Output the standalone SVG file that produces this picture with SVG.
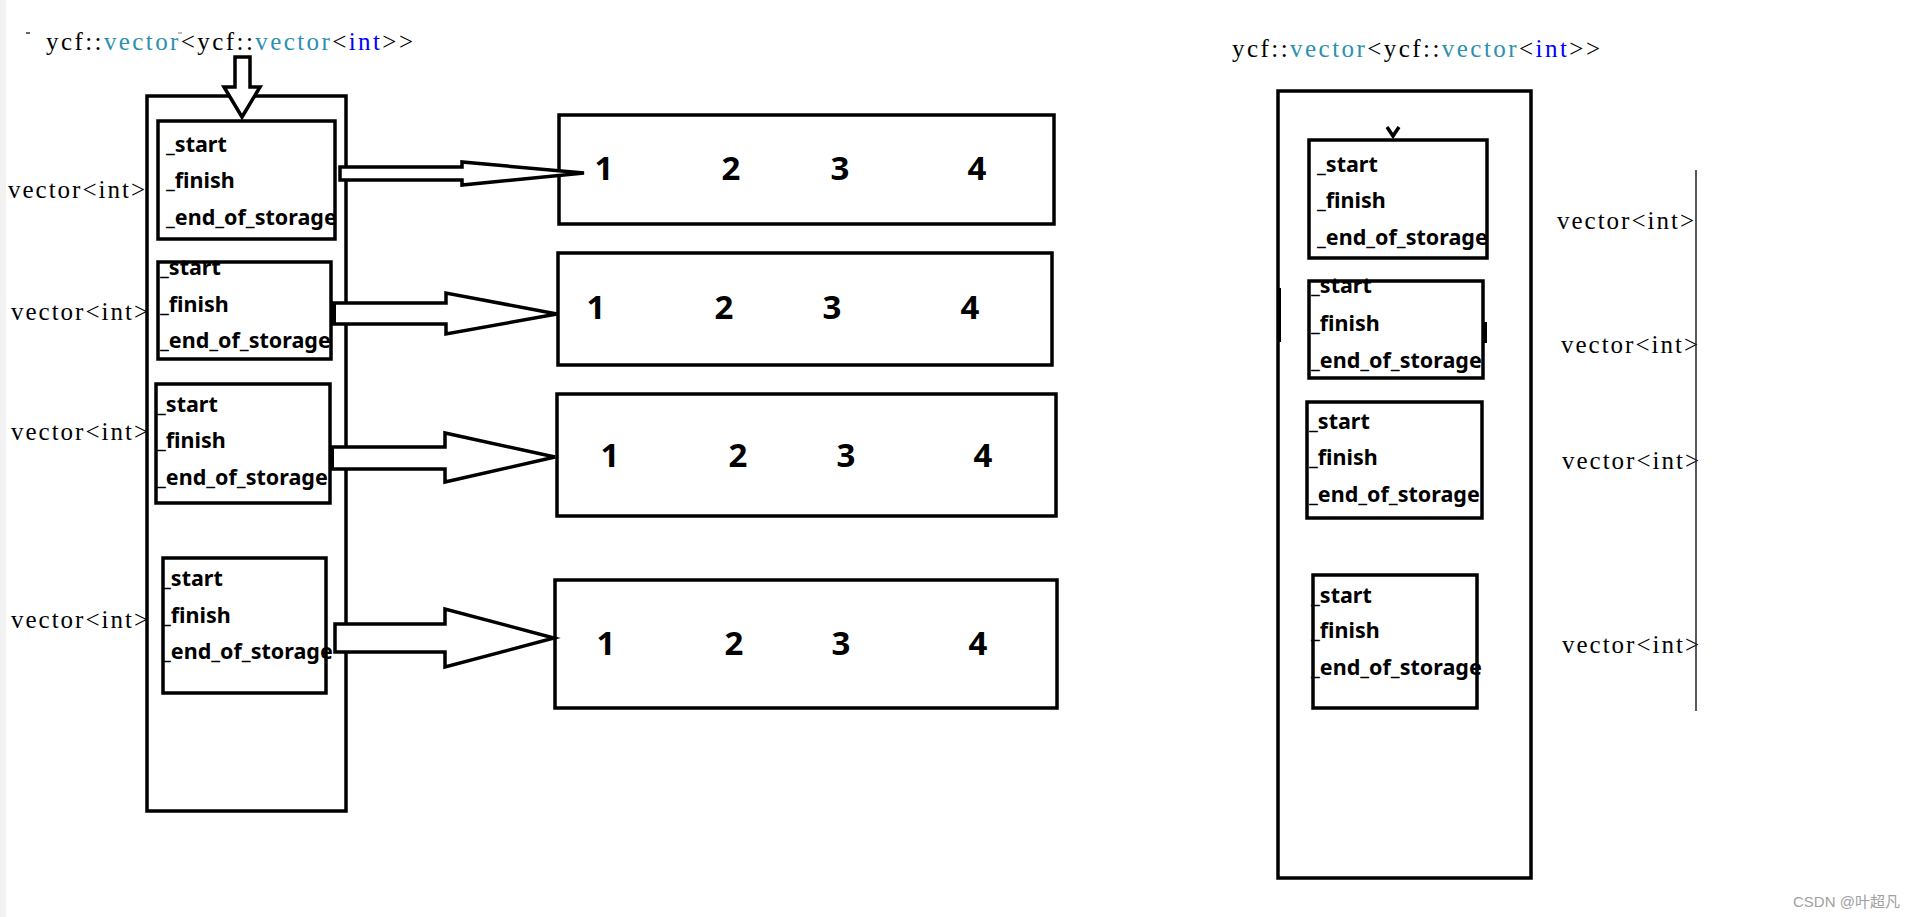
<svg xmlns="http://www.w3.org/2000/svg" width="1908" height="917" viewBox="0 0 1908 917">
<style>
.bg{fill:#ffffff}
.box{fill:none;stroke:#000;stroke-width:3.5}
.nbox{fill:none;stroke:#000;stroke-width:3.5}
.fld{font-family:"Noto Sans","Open Sans",sans-serif;font-weight:bold;font-size:21.5px;fill:#000}
.dig{font-family:"Noto Sans","Open Sans",sans-serif;font-weight:bold;font-size:33px;fill:#000;text-anchor:middle}
.code{font-family:"Liberation Serif","DejaVu Serif",serif;font-size:25px;fill:#000}
.cls{fill:#2b91af}
.kw{fill:#0000ff}
.arr{fill:#fff;stroke:#000;stroke-width:3.5;stroke-linejoin:miter}
.wm{font-family:"Liberation Sans","Noto Sans CJK SC",sans-serif;font-size:15px;fill:#a0a0a0}
</style>
<rect class="bg" x="0" y="0" width="1908" height="917"/>
<rect x="0" y="0" width="6" height="917" fill="#f2f2f2"/>

<!-- Left diagram -->
<g id="title-left">
  <text class="code" x="46" y="50" textLength="367" lengthAdjust="spacing">ycf::<tspan class="cls">vector</tspan>&lt;ycf::<tspan class="cls">vector</tspan>&lt;<tspan class="kw">int</tspan>&gt;&gt;</text>
  <line x1="26" y1="33" x2="30" y2="33" stroke="#333" stroke-width="1.5"/>
  <line x1="178" y1="33" x2="182" y2="33" stroke="#777" stroke-width="1"/>
</g>

<g id="container-left">
  <rect class="box" x="147" y="96" width="199" height="715"/>
</g>

<g id="vec-left-1">
  <rect class="box" x="158" y="121" width="177" height="118"/>
  <text class="fld" x="166" y="152">_start</text>
  <text class="fld" x="166" y="188">_finish</text>
  <text class="fld" x="166" y="225">_end_of_storage</text>
</g>
<g id="vec-left-2">
  <rect class="box" x="158" y="262" width="173" height="97"/>
  <text class="fld" x="160" y="275">_start</text>
  <text class="fld" x="160" y="312">_finish</text>
  <text class="fld" x="160" y="348">_end_of_storage</text>
</g>
<g id="vec-left-3">
  <rect class="box" x="156" y="384" width="174" height="119"/>
  <text class="fld" x="157" y="412">_start</text>
  <text class="fld" x="157" y="448">_finish</text>
  <text class="fld" x="157" y="485">_end_of_storage</text>
</g>
<g id="vec-left-4">
  <rect class="box" x="163" y="558" width="163" height="135"/>
  <text class="fld" x="162" y="586">_start</text>
  <text class="fld" x="162" y="623">_finish</text>
  <text class="fld" x="162" y="659">_end_of_storage</text>
</g>

<g id="labels-left">
  <text class="code" x="8" y="198" textLength="137" lengthAdjust="spacing">vector&lt;int&gt;</text>
  <text class="code" x="11" y="320" textLength="137" lengthAdjust="spacing">vector&lt;int&gt;</text>
  <text class="code" x="11" y="440" textLength="137" lengthAdjust="spacing">vector&lt;int&gt;</text>
  <text class="code" x="11" y="628" textLength="137" lengthAdjust="spacing">vector&lt;int&gt;</text>
</g>

<g id="array-1">
  <rect class="nbox" x="559" y="115" width="495" height="109"/>
  <text class="dig" x="604" y="180">1</text>
  <text class="dig" x="731" y="180">2</text>
  <text class="dig" x="840" y="180">3</text>
  <text class="dig" x="977" y="180">4</text>
</g>
<g id="array-2">
  <rect class="nbox" x="558" y="253" width="494" height="112"/>
  <text class="dig" x="596" y="319">1</text>
  <text class="dig" x="724" y="319">2</text>
  <text class="dig" x="832" y="319">3</text>
  <text class="dig" x="970" y="319">4</text>
</g>
<g id="array-3">
  <rect class="nbox" x="557" y="394" width="499" height="122"/>
  <text class="dig" x="610" y="467">1</text>
  <text class="dig" x="738" y="467">2</text>
  <text class="dig" x="846" y="467">3</text>
  <text class="dig" x="983" y="467">4</text>
</g>
<g id="array-4">
  <rect class="nbox" x="555" y="580" width="502" height="128"/>
  <text class="dig" x="606" y="655">1</text>
  <text class="dig" x="734" y="655">2</text>
  <text class="dig" x="841" y="655">3</text>
  <text class="dig" x="978" y="655">4</text>
</g>

<!-- Right diagram -->
<g id="title-right">
  <text class="code" x="1232" y="57" textLength="368" lengthAdjust="spacing">ycf::<tspan class="cls">vector</tspan>&lt;ycf::<tspan class="cls">vector</tspan>&lt;<tspan class="kw">int</tspan>&gt;&gt;</text>
</g>
<g id="container-right">
  <rect class="box" x="1278" y="91" width="253" height="787"/>
  <line x1="1279" y1="288" x2="1279" y2="342" stroke="#000" stroke-width="4"/>
</g>
<g id="vec-right-1">
  <rect class="box" x="1309" y="140" width="178" height="118"/>
  <text class="fld" x="1317" y="172">_start</text>
  <text class="fld" x="1317" y="208">_finish</text>
  <text class="fld" x="1317" y="245">_end_of_storage</text>
</g>
<g id="vec-right-2">
  <rect class="box" x="1309" y="281" width="174" height="97"/>
  <line x1="1485" y1="322" x2="1485" y2="343" stroke="#000" stroke-width="4"/>
  <text class="fld" x="1311" y="293">_start</text>
  <text class="fld" x="1311" y="331">_finish</text>
  <text class="fld" x="1311" y="368">_end_of_storage</text>
</g>
<g id="vec-right-3">
  <rect class="box" x="1307" y="402" width="175" height="116"/>
  <text class="fld" x="1309" y="429">_start</text>
  <text class="fld" x="1309" y="465">_finish</text>
  <text class="fld" x="1309" y="502">_end_of_storage</text>
</g>
<g id="vec-right-4">
  <rect class="box" x="1313" y="575" width="164" height="133"/>
  <text class="fld" x="1311" y="603">_start</text>
  <text class="fld" x="1311" y="638">_finish</text>
  <text class="fld" x="1311" y="675">_end_of_storage</text>
</g>
<g id="labels-right">
  <text class="code" x="1557" y="229" textLength="137" lengthAdjust="spacing">vector&lt;int&gt;</text>
  <text class="code" x="1561" y="353" textLength="137" lengthAdjust="spacing">vector&lt;int&gt;</text>
  <text class="code" x="1562" y="469" textLength="137" lengthAdjust="spacing">vector&lt;int&gt;</text>
  <text class="code" x="1562" y="653" textLength="137" lengthAdjust="spacing">vector&lt;int&gt;</text>
  <line x1="1696" y1="170" x2="1696" y2="711" stroke="#222" stroke-width="1.5"/>
</g>

<g id="connectors">
  <polygon class="arr" points="235,57 250,57 250,87 260,87 242,117 224,87 235,87"/>
  <polygon class="arr" points="340,167 462,167 462,162 584,173 462,185 462,180 340,180"/>
  <polygon class="arr" points="333,303 446,303 446,293 557,314 446,334 446,324 333,324"/>
  <line x1="334" y1="303" x2="334" y2="324" stroke="#000" stroke-width="4"/>
  <polygon class="arr" points="331,447 445,447 445,433 555,457 445,482 445,469 331,469"/>
  <line x1="332" y1="447" x2="332" y2="469" stroke="#000" stroke-width="4"/>
  <polygon class="arr" points="335,624 445,624 445,609 554,638 445,667 445,652 335,652"/>
  <polyline points="1387,127 1393,136 1399,127" fill="none" stroke="#000" stroke-width="3.5"/>
</g>

<text class="wm" x="1793" y="907">CSDN @叶超凡</text>
</svg>
